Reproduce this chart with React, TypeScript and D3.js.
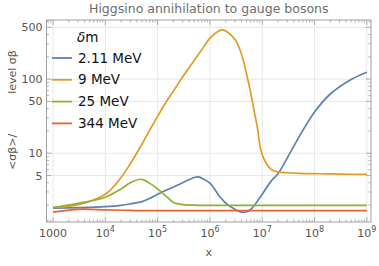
import * as d3 from "d3";

// sampled x positions (shared by every series)
const xs = [
  1e3, 3e3, 1e4, 2e4, 3e4, 5e4, 7e4, 1e5, 1.5e5, 2e5, 3e5, 5e5, 6e5, 7e5, 1e6,
  1.5e6, 1.7e6, 2e6, 3e6, 4e6, 5e6, 6e6, 7e6, 8e6, 1e7, 1.5e7, 2e7, 3e7, 5e7,
  1e8, 2e8, 5e8, 1e9,
];

const blue = [
  1.81, 1.84, 1.9, 1.98, 2.07, 2.22, 2.45, 2.8, 3.2, 3.5, 4.0, 4.7, 4.8, 4.6,
  3.95, 2.65, 2.4, 2.12, 1.75, 1.6, 1.62, 1.74, 1.96, 2.24, 2.8, 4.27, 5.3, 8.6,
  16.4, 36, 63, 99, 124,
];
const orange = [
  1.85, 2.02, 2.8, 4.7, 7.2, 13.2, 20.3, 31.5, 51, 69, 107, 178, 215, 250, 358,
  450, 462, 445, 345, 218, 118, 66, 37, 23, 9.5, 6.0, 5.6, 5.45, 5.35, 5.3,
  5.25, 5.2, 5.2,
];
const green = [
  1.85, 2.1, 2.55, 3.3, 4.0, 4.45, 3.95, 3.3, 2.57, 2.17, 2.03, 1.99, 1.98,
  1.98, 1.98, 1.98, 1.98, 1.98, 1.98, 1.98, 1.98, 1.98, 1.98, 1.98, 1.98, 1.98,
  1.98, 1.98, 1.98, 1.98, 1.98, 1.98, 1.98,
];
const red = [
  1.6, 1.75, 1.72, 1.7, 1.69, 1.68, 1.68, 1.68, 1.68, 1.68, 1.68, 1.68, 1.68,
  1.68, 1.68, 1.68, 1.68, 1.68, 1.68, 1.68, 1.68, 1.68, 1.68, 1.68, 1.68, 1.68,
  1.68, 1.68, 1.68, 1.68, 1.68, 1.68, 1.68,
];

const seriesNames = ["2.11 MeV", "9 MeV", "25 MeV", "344 MeV"];
const seriesValues = [blue, orange, green, red];
const colors = ["#5e81b5", "#e19c24", "#8fb131", "#eb6235"];

const xMajor = [1e3, 1e4, 1e5, 1e6, 1e7, 1e8, 1e9];
const yMajor = [5, 10, 50, 100, 500];

export default function App() {
  const width = 379;
  const height = 266;
  const left = 46.5;
  const right = 371;
  const top = 20;
  const bottom = 222;

  const x = d3.scaleLog([750, 1.2e9], [left, right]);
  const y = d3.scaleLog([1.18, 628], [bottom, top]);

  const line = d3
    .line<[number, number]>()
    .x((d) => x(d[0]))
    .y((d) => y(d[1]))
    .curve(d3.curveCatmullRom.alpha(0.5));

  const xMinor = x.ticks().filter((t) => !xMajor.includes(t));
  const yMinor = y.ticks().filter((t) => !yMajor.includes(t));

  const axisColor = "#a0a0a0";
  const labelColor = "#555";
  const font = "'DejaVu Sans', sans-serif";

  return (
    <svg
      width={width}
      height={height}
      style={{ position: "absolute", left: 0, top: 0, background: "white" }}
      fontFamily={font}
    >
      <text
        x={(left + right) / 2}
        y={13}
        textAnchor="middle"
        fontSize={12.5}
        fill="#6e6e6e"
      >
        Higgsino annihilation to gauge bosons
      </text>

      {/* grid */}
      <g stroke="#e8e8e8" strokeWidth={1}>
        {xMajor.map((t) => (
          <line key={t} x1={x(t)} x2={x(t)} y1={top} y2={bottom} />
        ))}
        {yMajor.map((t) => (
          <line key={t} x1={left} x2={right} y1={y(t)} y2={y(t)} />
        ))}
      </g>

      {/* series */}
      <g fill="none" strokeWidth={1.7}>
        {seriesValues.map((vals, i) => (
          <path
            key={i}
            stroke={colors[i]}
            d={line(xs.map((v, j) => [v, vals[j]] as [number, number])) as string}
          />
        ))}
      </g>

      {/* frame */}
      <rect
        x={left}
        y={top}
        width={right - left}
        height={bottom - top}
        fill="none"
        stroke={axisColor}
        strokeWidth={1}
      />

      {/* ticks on all four sides */}
      <g stroke={axisColor} strokeWidth={0.8}>
        {xMajor.map((t) => (
          <g key={t}>
            <line x1={x(t)} x2={x(t)} y1={bottom} y2={bottom - 5} />
            <line x1={x(t)} x2={x(t)} y1={top} y2={top + 5} />
          </g>
        ))}
        {xMinor.map((t) => (
          <g key={t}>
            <line x1={x(t)} x2={x(t)} y1={bottom} y2={bottom - 2.5} />
            <line x1={x(t)} x2={x(t)} y1={top} y2={top + 2.5} />
          </g>
        ))}
        {yMajor.map((t) => (
          <g key={t}>
            <line x1={left} x2={left + 5} y1={y(t)} y2={y(t)} />
            <line x1={right} x2={right - 5} y1={y(t)} y2={y(t)} />
          </g>
        ))}
        {yMinor.map((t) => (
          <g key={t}>
            <line x1={left} x2={left + 2.5} y1={y(t)} y2={y(t)} />
            <line x1={right} x2={right - 2.5} y1={y(t)} y2={y(t)} />
          </g>
        ))}
      </g>

      {/* x tick labels */}
      <g fill={labelColor} fontSize={11}>
        {xMajor.map((t) => {
          const e = Math.round(Math.log10(t));
          if (e === 3)
            return (
              <text key={t} x={x(t)} y={bottom + 15} textAnchor="middle">
                1000
              </text>
            );
          return (
            <text key={t} x={x(t)} y={bottom + 15} textAnchor="middle">
              10
              <tspan fontSize={8} dy={-5}>
                {e}
              </tspan>
            </text>
          );
        })}
      </g>

      {/* y tick labels */}
      <g fill={labelColor} fontSize={11} textAnchor="end">
        {yMajor.map((t) => (
          <text key={t} x={left - 4} y={y(t) + 4}>
            {t}
          </text>
        ))}
      </g>

      <text
        x={(left + right) / 2}
        y={256}
        textAnchor="middle"
        fontSize={11}
        fill={labelColor}
      >
        x
      </text>

      <text
        transform={`translate(16,170) rotate(-90)`}
        fontSize={11}
        fill={labelColor}
      >
        {"<σβ>/"}
        <tspan dx={40}>level σβ</tspan>
      </text>

      {/* legend */}
      <g fontSize={13.5} fill="#111">
        <text x={77} y={42}>
          <tspan fontStyle="italic">δ</tspan>m
        </text>
        {seriesNames.map((name, i) => (
          <g key={name} transform={`translate(0,${58 + i * 21.8})`}>
            <line x1={52} x2={72} y1={0} y2={0} stroke={colors[i]} strokeWidth={1.8} />
            <text x={78} y={4.5}>
              {name}
            </text>
          </g>
        ))}
      </g>
    </svg>
  );
}
